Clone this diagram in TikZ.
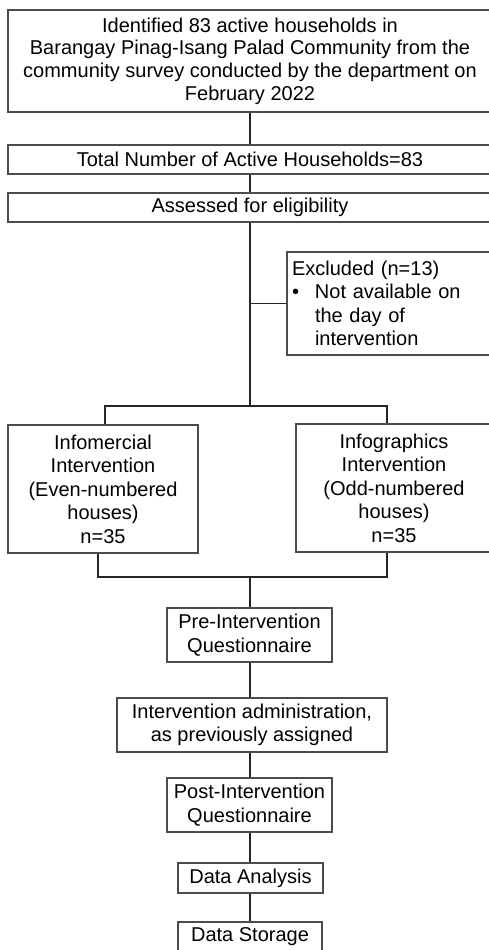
\documentclass[tikz,border=0pt]{standalone}
\usepackage{fontspec}
\setmainfont{Liberation Sans}
\begin{document}
\begin{tikzpicture}[x=1pt,y=-1pt,
  box/.style={draw=black!70, line width=1.1pt, rectangle, inner sep=0pt, align=center,
     font=\fontsize{20}{23.5}\selectfont, text=black},
  conn/.style={draw=black!85, line width=1.3pt}]
\useasboundingbox (0,0) rectangle (489,950);
\clip (0,0) rectangle (489,950);

\node[box, minimum width=484pt, minimum height=102pt, font=\fontsize{20}{22.7}\selectfont] (top) at (250,61)
  {Identified 83 active households in\\Barangay Pinag-Isang Palad Community from the\\community survey conducted by the department on\\February 2022};
\node[box, minimum width=484pt, minimum height=29pt] (total) at (250,159.5) {Total Number of Active Households=83};
\node[box, minimum width=484pt, minimum height=29pt] (assess) at (250,207.5) {Assessed for eligibility};
\node[box, minimum width=205pt, minimum height=103pt, text width=195pt, inner xsep=5pt, align=left] (excl) at (389.5,303.5)
  {Excluded (n=13)\\\makebox[23pt][l]{\textbullet}Not available on\\\hspace*{23pt}the day of\\\hspace*{23pt}intervention};
\node[box, minimum width=190pt, minimum height=128pt] (left) at (103,489)
  {Infomercial\\Intervention\\(Even-numbered\\houses)\\n=35};
\node[box, minimum width=196pt, minimum height=128pt] (right) at (394,488)
  {Infographics\\Intervention\\(Odd-numbered\\houses)\\n=35};
\node[box, minimum width=165pt, minimum height=54pt] (pre) at (249.5,635) {Pre-Intervention\\Questionnaire};
\node[box, minimum width=270pt, minimum height=54pt] (admin) at (252,725) {Intervention administration,\\as previously assigned};
\node[box, minimum width=165pt, minimum height=54pt] (post) at (249.5,805) {Post-Intervention\\Questionnaire};
\node[box, minimum width=145pt, minimum height=30pt] (ana) at (250.5,878) {Data Analysis};
\node[box, minimum width=144pt, minimum height=30pt] (stor) at (250,937) {Data Storage};

\coordinate (c) at (250,0);
\coordinate (split) at (250,406);
\coordinate (sL) at (105,406);
\coordinate (sR) at (387,406);
\coordinate (jL) at (98,577);
\coordinate (jR) at (387,577);
\coordinate (join) at (250,577);

\draw[conn] (top.south -| c) -- (total.north -| c);
\draw[conn] (total.south -| c) -- (assess.north -| c);
\draw[conn] (assess.south -| c) -- (split);
\draw[conn] (excl.west -| c) -- (excl.west);
\draw[conn] (left.north -| sL) -- (sL) -- (sR) -- (right.north -| sR);
\draw[conn] (left.south -| jL) -- (jL) -- (jR) -- (right.south -| jR);
\draw[conn] (join) -- (pre.north -| c);
\draw[conn] (pre.south -| c) -- (admin.north -| c);
\draw[conn] (admin.south -| c) -- (post.north -| c);
\draw[conn] (post.south -| c) -- (ana.north -| c);
\draw[conn] (ana.south -| c) -- (stor.north -| c);
\end{tikzpicture}
\end{document}
